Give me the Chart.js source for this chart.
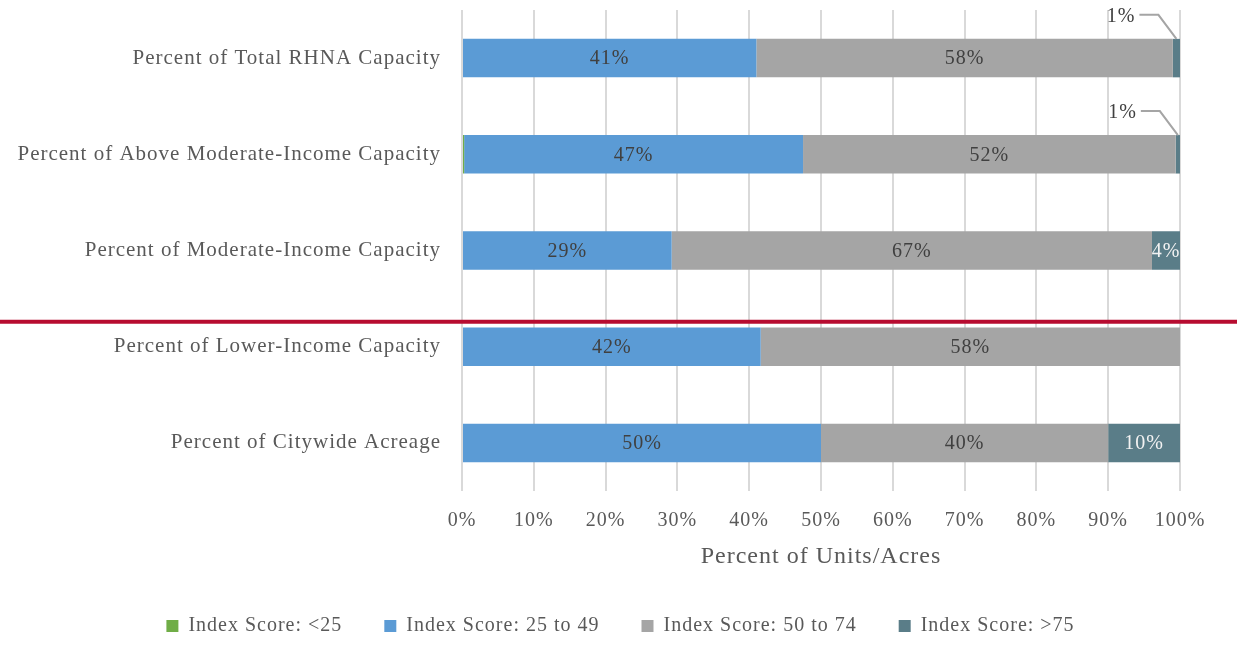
<!DOCTYPE html>
<html>
<head>
<meta charset="utf-8">
<script src="https://cdn.jsdelivr.net/npm/chart.js@4.4.1/dist/chart.umd.min.js"></script>
<style>
  html, body { margin: 0; padding: 0; background: #ffffff; }
  #wrap { width: 1241px; height: 646px; }
</style>
</head>
<body>
<div id="wrap"><canvas id="c" width="1241" height="646"></canvas></div>
<script>
// Share of units / acres in each opportunity index band
const categories = [
  'Percent of Total RHNA Capacity',
  'Percent of Above Moderate-Income Capacity',
  'Percent of Moderate-Income Capacity',
  'Percent of Lower-Income Capacity',
  'Percent of Citywide Acreage'
];
const seriesNames = ['Index Score: <25', 'Index Score: 25 to 49', 'Index Score: 50 to 74', 'Index Score: >75'];
const scoreUnder25 = [0, 0.3, 0, 0, 0];
const score25to49  = [41, 47.2, 29.2, 41.6, 50];
const score50to74  = [58, 51.9, 66.9, 58.4, 40];
const scoreOver75  = [1, 0.6, 3.9, 0, 10];
const xTicks = [0, 10, 20, 30, 40, 50, 60, 70, 80, 90, 100];
const xTitle = 'Percent of Units/Acres';

const colors = ['#70AD47', '#5B9BD5', '#A5A5A5', '#5A7D88'];
const labelColors = [null, '#404040', '#404040', '#F2F2F2'];
const FONT = "'Liberation Serif', 'Times New Roman', serif";

const seriesValues = [scoreUnder25, score25to49, score50to74, scoreOver75];

// Slightly open tracking for every piece of text on the canvas
const tracking = {
  id: 'tracking',
  beforeUpdate(chart) { chart.ctx.letterSpacing = '1px'; },
  beforeDraw(chart) { chart.ctx.letterSpacing = '1px'; }
};

// Value labels: centred in the segment, or pulled out with a leader line when the segment is too thin
const valueLabels = {
  id: 'valueLabels',
  afterDatasetsDraw(chart) {
    const ctx = chart.ctx;
    ctx.save();
    ctx.font = '20px ' + FONT;
    ctx.textBaseline = 'middle';
    chart.data.datasets.forEach((ds, di) => {
      if (di === 0) return;
      const meta = chart.getDatasetMeta(di);
      meta.data.forEach((bar, i) => {
        const v = ds.data[i];
        if (!v) return;
        const text = Math.round(v) + '%';
        const left = Math.min(bar.x, bar.base), right = Math.max(bar.x, bar.base);
        const w = right - left;
        const cx = (left + right) / 2;
        if (w > 20) {
          ctx.fillStyle = labelColors[di];
          ctx.textAlign = 'center';
          ctx.fillText(text, cx, bar.y + 1);
        } else {
          const top = bar.y - bar.height / 2;
          ctx.strokeStyle = '#A5A5A5';
          ctx.lineWidth = 2;
          ctx.beginPath();
          ctx.moveTo(cx, top);
          ctx.lineTo(cx - 18, top - 24);
          ctx.lineTo(cx - 37, top - 24);
          ctx.stroke();
          ctx.fillStyle = '#404040';
          ctx.textAlign = 'right';
          ctx.fillText(text, cx - 41, top - 22);
        }
      });
    });
    ctx.restore();
  }
};

// Divider between the higher and lower income groups
const divider = {
  id: 'divider',
  afterDraw(chart) {
    const y = chart.scales.y.getPixelForValue(2.74);
    const ctx = chart.ctx;
    ctx.save();
    ctx.strokeStyle = '#B70C30';
    ctx.lineWidth = 4;
    ctx.beginPath();
    ctx.moveTo(0, y);
    ctx.lineTo(1237, y);
    ctx.stroke();
    ctx.restore();
  }
};

new Chart(document.getElementById('c'), {
  type: 'bar',
  data: {
    labels: categories,
    datasets: seriesNames.map((name, i) => ({
      label: name,
      data: seriesValues[i],
      backgroundColor: colors[i],
      borderWidth: 0,
      barPercentage: 0.4,
      categoryPercentage: 1
    }))
  },
  options: {
    indexAxis: 'y',
    responsive: false,
    animation: false,
    layout: { padding: { top: 10, right: 0, left: 0, bottom: 0 } },
    scales: {
      x: {
        stacked: true,
        min: 0, max: 100,
        afterBuildTicks(scale) { scale.ticks = xTicks.map(v => ({ value: v })); },
        afterFit(scale) { scale.height = 83; scale.paddingLeft = 0; scale.paddingRight = 61; },
        ticks: {
          callback: v => v + '%',
          color: '#595959',
          font: { family: FONT, size: 20 },
          padding: 18,
          maxRotation: 0
        },
        grid: { color: '#D9D9D9', lineWidth: 2, drawTicks: false },
        border: { display: false },
        title: {
          display: true,
          text: xTitle,
          color: '#595959',
          font: { family: FONT, size: 24 },
          padding: { top: 0, bottom: 3 }
        }
      },
      y: {
        stacked: true,
        afterFit(scale) { scale.width = 462; scale.paddingTop = 0; scale.paddingBottom = 0; },
        ticks: {
          color: '#595959',
          font: { family: FONT, size: 21 },
          padding: 21
        },
        grid: { display: false, drawTicks: false },
        border: { display: false }
      }
    },
    plugins: {
      legend: {
        position: 'bottom',
        labels: {
          boxWidth: 12,
          boxHeight: 12,
          padding: 42,
          color: '#595959',
          font: { family: FONT, size: 20 }
        }
      },
      tooltip: { enabled: false }
    }
  },
  plugins: [tracking, valueLabels, divider]
});
</script>
</body>
</html>
